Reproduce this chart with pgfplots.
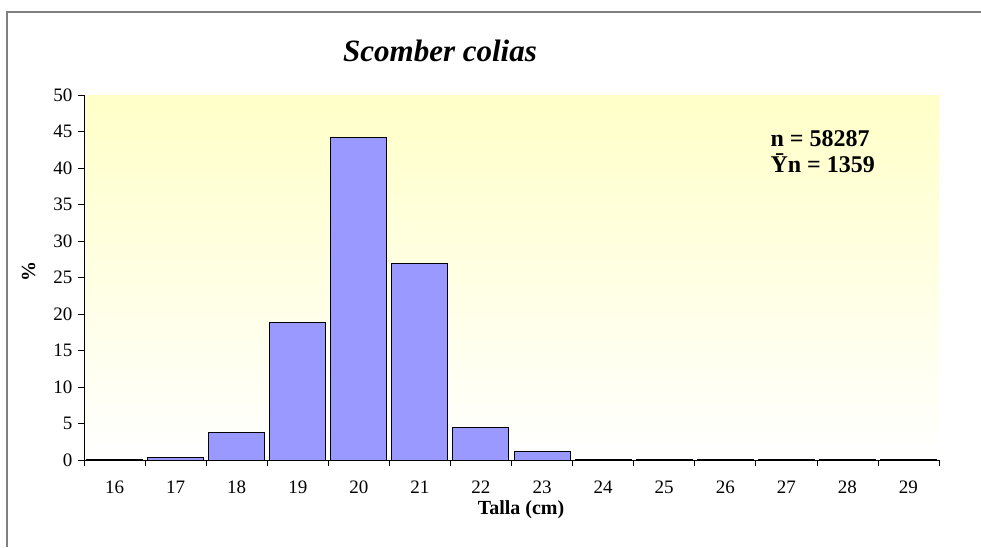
\documentclass[border=0pt]{standalone}
\usepackage{pgfplots}
\pgfplotsset{compat=1.18}
\usepackage{fontspec}
\setmainfont{Liberation Serif}
\definecolor{barblue}{RGB}{153,153,255}
\definecolor{paleyellow}{RGB}{255,255,200}

\begin{document}
\begin{tikzpicture}[x=1pt,y=1pt]
\useasboundingbox (0,0) rectangle (981,547);
% outer chart frame (left and top edges visible)
\draw[gray, line width=1.5pt] (7,0) -- (7,535) -- (981,535);

\begin{axis}[
    at={(84pt,87pt)}, anchor=south west,
    width=855pt, height=365pt, scale only axis,
    xmin=15.5, xmax=29.5,
    ymin=0, ymax=50,
    axis lines*=left,
    axis line style={line width=0.8pt},
    axis background/.style={top color=paleyellow, bottom color=white},
    xtick={16,...,29},
    minor xtick={15.5,16.5,...,29.5},
    ytick={0,5,...,50},
    tick align=outside,
    major x tick style={draw=none},
    major tick length=6pt,
    minor tick length=6pt,
    tick style={black, line width=0.6pt},
    /pgf/number format/assume math mode=true,
    tick label style={font=\fontsize{19}{19}\selectfont},
    xticklabel style={yshift=-11pt},
    yticklabel style={xshift=-2pt},
    ybar, bar width=56pt,
]
\addplot[fill=barblue, draw=black, line width=1pt] coordinates {
    (16,0.1) (17,0.35) (18,3.8) (19,18.9) (20,44.2) (21,26.9) (22,4.4)
    (23,1.2) (24,0.05) (25,0.1) (26,0.05) (27,0.02) (28,0.05) (29,0.05)
};
\end{axis}

\node[anchor=base, font=\bfseries\itshape\fontsize{31}{31}\selectfont] at (440,485) {Scomber colias};
\node[anchor=base, font=\bfseries\fontsize{20}{20}\selectfont] at (521,33) {Talla (cm)};
\node[rotate=90, font=\bfseries\fontsize{20}{20}\selectfont] at (28.5,276) {\%};
\node[anchor=base west, font=\bfseries\fontsize{24}{24}\selectfont] at (767,400) {n = 58287};
\node[anchor=base west, font=\bfseries\fontsize{24}{24}\selectfont] at (767,374) {Ȳn = 1359};
\end{tikzpicture}
\end{document}
